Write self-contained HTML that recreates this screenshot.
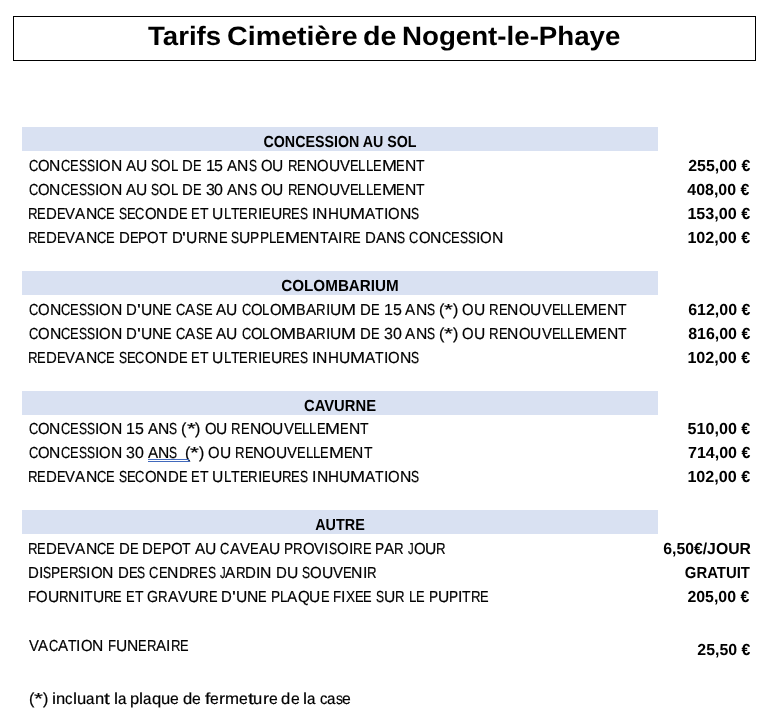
<!DOCTYPE html>
<html><head><meta charset="utf-8"><title>Tarifs Cimetière de Nogent-le-Phaye</title>
<style>
html,body{margin:0;padding:0;background:#fff;}
body{width:775px;height:722px;position:relative;overflow:hidden;font-family:"Liberation Sans", sans-serif;color:#000;text-rendering:geometricPrecision;}
.r{position:absolute;height:17px;filter:grayscale(1);}
.r span{-webkit-text-stroke:0.2px #000;position:absolute;top:0;font-size:16px;line-height:17px;white-space:pre;transform-origin:0 0;}
.p{filter:grayscale(1);position:absolute;font-size:16px;line-height:17px;white-space:pre;font-weight:bold;transform-origin:100% 0;text-align:right;}
.b{position:absolute;left:22px;width:636px;height:24px;background:#D9E1F2;}
.h{filter:grayscale(1);position:absolute;font-size:16px;line-height:17px;white-space:pre;font-weight:bold;transform-origin:50% 0;left:22px;width:636px;text-align:center;}
.box{position:absolute;left:13px;top:16px;width:741px;height:43px;border:1px solid #000;}
.title{filter:grayscale(1);position:absolute;font-size:26.5px;line-height:30px;font-weight:bold;white-space:pre;transform-origin:0 0;}
.sq{position:absolute;height:1px;background:#4169BC;}
</style></head><body>
<div class="box"></div>
<div class="title" id="t0" style="left:148.00px;top:20.70px;transform:scaleX(1.0421)">Tarifs</div>
<div class="title" id="t1" style="left:227.10px;top:20.70px;transform:scaleX(1.0813)">Cimetière</div>
<div class="title" id="t2" style="left:363.36px;top:20.70px;transform:scaleX(1.0808)">de</div>
<div class="title" id="t3" style="left:401.72px;top:20.70px;transform:scaleX(1.0446)">Nogent-le-Phaye</div>
<div class="b" style="top:127px"></div>
<div class="h" id="h0" style="top:134.00px;transform:scaleX(0.8902)">CONCESSION AU SOL</div>
<div class="b" style="top:271px"></div>
<div class="h" id="h1" style="top:278.00px;transform:scaleX(0.9508)">COLOMBARIUM</div>
<div class="b" style="top:391px"></div>
<div class="h" id="h2" style="top:398.00px;transform:scaleX(0.9238)">CAVURNE</div>
<div class="b" style="top:510px"></div>
<div class="h" id="h3" style="top:517.00px;transform:scaleX(0.8984)">AUTRE</div>
<div class="r" id="r0" style="left:28.56px;top:158.00px;width:396.3px"><span style="left:0.00px;transform:scaleX(0.8076)">C</span><span style="left:9.34px;transform:scaleX(0.9311)">O</span><span style="left:20.93px;transform:scaleX(0.9777)">N</span><span style="left:32.24px;transform:scaleX(0.8076)">C</span><span style="left:41.57px;transform:scaleX(0.8012)">E</span><span style="left:50.12px;transform:scaleX(0.7540)">S</span><span style="left:58.17px;transform:scaleX(0.7540)">S</span><span style="left:66.22px;transform:scaleX(0.9908)">I</span><span style="left:70.63px;transform:scaleX(0.9311)">O</span><span style="left:82.22px;transform:scaleX(0.9777)">N</span><span style="left:97.49px;transform:scaleX(0.9495)">A</span><span style="left:107.62px;transform:scaleX(0.9717)">U</span><span style="left:122.82px;transform:scaleX(0.7540)">S</span><span style="left:130.86px;transform:scaleX(0.9311)">O</span><span style="left:142.46px;transform:scaleX(0.8266)">L</span><span style="left:153.78px;transform:scaleX(0.9318)">D</span><span style="left:164.55px;transform:scaleX(0.8012)">E</span><span style="left:177.06px;transform:scaleX(0.9966)">1</span><span style="left:185.94px;transform:scaleX(0.9966)">5</span><span style="left:198.77px;transform:scaleX(0.9495)">A</span><span style="left:208.91px;transform:scaleX(0.9777)">N</span><span style="left:220.21px;transform:scaleX(0.7540)">S</span><span style="left:232.21px;transform:scaleX(0.9311)">O</span><span style="left:243.81px;transform:scaleX(0.9717)">U</span><span style="left:259.00px;transform:scaleX(0.8224)">R</span><span style="left:268.51px;transform:scaleX(0.8012)">E</span><span style="left:277.06px;transform:scaleX(0.9777)">N</span><span style="left:288.37px;transform:scaleX(0.9311)">O</span><span style="left:299.96px;transform:scaleX(0.9717)">U</span><span style="left:311.20px;transform:scaleX(0.9311)">V</span><span style="left:321.13px;transform:scaleX(0.8012)">E</span><span style="left:329.69px;transform:scaleX(0.8266)">L</span><span style="left:337.05px;transform:scaleX(0.8266)">L</span><span style="left:344.41px;transform:scaleX(0.8012)">E</span><span style="left:352.96px;transform:scaleX(1.1234)">M</span><span style="left:367.93px;transform:scaleX(0.8012)">E</span><span style="left:376.48px;transform:scaleX(0.9777)">N</span><span style="left:387.79px;transform:scaleX(0.8725)">T</span></div>
<div class="r" id="r1" style="left:28.56px;top:182.00px;width:396.3px"><span style="left:0.00px;transform:scaleX(0.8076)">C</span><span style="left:9.34px;transform:scaleX(0.9311)">O</span><span style="left:20.93px;transform:scaleX(0.9777)">N</span><span style="left:32.24px;transform:scaleX(0.8076)">C</span><span style="left:41.57px;transform:scaleX(0.8012)">E</span><span style="left:50.12px;transform:scaleX(0.7540)">S</span><span style="left:58.17px;transform:scaleX(0.7540)">S</span><span style="left:66.22px;transform:scaleX(0.9908)">I</span><span style="left:70.63px;transform:scaleX(0.9311)">O</span><span style="left:82.22px;transform:scaleX(0.9777)">N</span><span style="left:97.49px;transform:scaleX(0.9495)">A</span><span style="left:107.62px;transform:scaleX(0.9717)">U</span><span style="left:122.82px;transform:scaleX(0.7540)">S</span><span style="left:130.86px;transform:scaleX(0.9311)">O</span><span style="left:142.46px;transform:scaleX(0.8266)">L</span><span style="left:153.78px;transform:scaleX(0.9318)">D</span><span style="left:164.55px;transform:scaleX(0.8012)">E</span><span style="left:177.06px;transform:scaleX(0.9966)">3</span><span style="left:185.94px;transform:scaleX(0.9966)">0</span><span style="left:198.77px;transform:scaleX(0.9495)">A</span><span style="left:208.91px;transform:scaleX(0.9777)">N</span><span style="left:220.21px;transform:scaleX(0.7540)">S</span><span style="left:232.21px;transform:scaleX(0.9311)">O</span><span style="left:243.81px;transform:scaleX(0.9717)">U</span><span style="left:259.00px;transform:scaleX(0.8224)">R</span><span style="left:268.51px;transform:scaleX(0.8012)">E</span><span style="left:277.06px;transform:scaleX(0.9777)">N</span><span style="left:288.37px;transform:scaleX(0.9311)">O</span><span style="left:299.96px;transform:scaleX(0.9717)">U</span><span style="left:311.20px;transform:scaleX(0.9311)">V</span><span style="left:321.13px;transform:scaleX(0.8012)">E</span><span style="left:329.69px;transform:scaleX(0.8266)">L</span><span style="left:337.05px;transform:scaleX(0.8266)">L</span><span style="left:344.41px;transform:scaleX(0.8012)">E</span><span style="left:352.96px;transform:scaleX(1.1234)">M</span><span style="left:367.93px;transform:scaleX(0.8012)">E</span><span style="left:376.48px;transform:scaleX(0.9777)">N</span><span style="left:387.79px;transform:scaleX(0.8725)">T</span></div>
<div class="r" id="r2" style="left:27.90px;top:206.00px;width:391.4px"><span style="left:0.00px;transform:scaleX(0.8251)">R</span><span style="left:9.54px;transform:scaleX(0.8039)">E</span><span style="left:18.12px;transform:scaleX(0.9349)">D</span><span style="left:28.93px;transform:scaleX(0.8039)">E</span><span style="left:37.51px;transform:scaleX(0.9341)">V</span><span style="left:47.48px;transform:scaleX(0.9526)">A</span><span style="left:57.64px;transform:scaleX(0.9809)">N</span><span style="left:68.99px;transform:scaleX(0.8102)">C</span><span style="left:78.35px;transform:scaleX(0.8039)">E</span><span style="left:90.90px;transform:scaleX(0.7565)">S</span><span style="left:98.98px;transform:scaleX(0.8039)">E</span><span style="left:107.56px;transform:scaleX(0.8102)">C</span><span style="left:116.93px;transform:scaleX(0.9342)">O</span><span style="left:128.56px;transform:scaleX(0.9809)">N</span><span style="left:139.90px;transform:scaleX(0.9349)">D</span><span style="left:150.71px;transform:scaleX(0.8039)">E</span><span style="left:163.26px;transform:scaleX(0.8039)">E</span><span style="left:171.84px;transform:scaleX(0.8753)">T</span><span style="left:184.37px;transform:scaleX(0.9750)">U</span><span style="left:195.65px;transform:scaleX(0.8294)">L</span><span style="left:203.03px;transform:scaleX(0.8753)">T</span><span style="left:211.60px;transform:scaleX(0.8039)">E</span><span style="left:220.18px;transform:scaleX(0.8251)">R</span><span style="left:229.72px;transform:scaleX(0.9941)">I</span><span style="left:234.14px;transform:scaleX(0.8039)">E</span><span style="left:242.72px;transform:scaleX(0.9750)">U</span><span style="left:253.99px;transform:scaleX(0.8251)">R</span><span style="left:263.53px;transform:scaleX(0.8039)">E</span><span style="left:272.11px;transform:scaleX(0.7565)">S</span><span style="left:284.16px;transform:scaleX(0.9941)">I</span><span style="left:288.59px;transform:scaleX(0.9809)">N</span><span style="left:299.93px;transform:scaleX(0.9468)">H</span><span style="left:310.87px;transform:scaleX(0.9750)">U</span><span style="left:322.15px;transform:scaleX(1.1271)">M</span><span style="left:337.17px;transform:scaleX(0.9526)">A</span><span style="left:347.34px;transform:scaleX(0.8753)">T</span><span style="left:355.90px;transform:scaleX(0.9941)">I</span><span style="left:360.32px;transform:scaleX(0.9342)">O</span><span style="left:371.96px;transform:scaleX(0.9809)">N</span><span style="left:383.30px;transform:scaleX(0.7565)">S</span></div>
<div class="r" id="r3" style="left:27.89px;top:230.00px;width:475.5px"><span style="left:0.00px;transform:scaleX(0.8263)">R</span><span style="left:9.55px;transform:scaleX(0.8050)">E</span><span style="left:18.14px;transform:scaleX(0.9362)">D</span><span style="left:28.97px;transform:scaleX(0.8050)">E</span><span style="left:37.56px;transform:scaleX(0.9355)">V</span><span style="left:47.54px;transform:scaleX(0.9540)">A</span><span style="left:57.73px;transform:scaleX(0.9823)">N</span><span style="left:69.08px;transform:scaleX(0.8114)">C</span><span style="left:78.46px;transform:scaleX(0.8050)">E</span><span style="left:91.03px;transform:scaleX(0.9362)">D</span><span style="left:101.86px;transform:scaleX(0.8050)">E</span><span style="left:110.45px;transform:scaleX(0.8517)">P</span><span style="left:119.54px;transform:scaleX(0.9355)">O</span><span style="left:131.19px;transform:scaleX(0.8766)">T</span><span style="left:143.74px;transform:scaleX(0.9362)">D</span><span style="left:154.57px;transform:scaleX(1.2680)">'</span><span style="left:158.45px;transform:scaleX(0.9763)">U</span><span style="left:169.74px;transform:scaleX(0.8263)">R</span><span style="left:179.29px;transform:scaleX(0.9823)">N</span><span style="left:190.65px;transform:scaleX(0.8050)">E</span><span style="left:203.22px;transform:scaleX(0.7575)">S</span><span style="left:211.30px;transform:scaleX(0.9763)">U</span><span style="left:222.59px;transform:scaleX(0.8517)">P</span><span style="left:231.68px;transform:scaleX(0.8517)">P</span><span style="left:240.77px;transform:scaleX(0.8306)">L</span><span style="left:248.17px;transform:scaleX(0.8050)">E</span><span style="left:256.76px;transform:scaleX(1.1287)">M</span><span style="left:271.80px;transform:scaleX(0.8050)">E</span><span style="left:280.40px;transform:scaleX(0.9823)">N</span><span style="left:291.75px;transform:scaleX(0.8766)">T</span><span style="left:300.33px;transform:scaleX(0.9540)">A</span><span style="left:310.51px;transform:scaleX(0.9955)">I</span><span style="left:314.94px;transform:scaleX(0.8263)">R</span><span style="left:324.50px;transform:scaleX(0.8050)">E</span><span style="left:337.06px;transform:scaleX(0.9362)">D</span><span style="left:347.89px;transform:scaleX(0.9540)">A</span><span style="left:358.07px;transform:scaleX(0.9823)">N</span><span style="left:369.43px;transform:scaleX(0.7575)">S</span><span style="left:381.49px;transform:scaleX(0.8114)">C</span><span style="left:390.87px;transform:scaleX(0.9355)">O</span><span style="left:402.52px;transform:scaleX(0.9823)">N</span><span style="left:413.88px;transform:scaleX(0.8114)">C</span><span style="left:423.26px;transform:scaleX(0.8050)">E</span><span style="left:431.85px;transform:scaleX(0.7575)">S</span><span style="left:439.94px;transform:scaleX(0.7575)">S</span><span style="left:448.02px;transform:scaleX(0.9955)">I</span><span style="left:452.45px;transform:scaleX(0.9355)">O</span><span style="left:464.10px;transform:scaleX(0.9823)">N</span></div>
<div class="r" id="r4" style="left:28.57px;top:302.00px;width:598.3px"><span style="left:0.00px;transform:scaleX(0.8091)">C</span><span style="left:9.36px;transform:scaleX(0.9329)">O</span><span style="left:20.97px;transform:scaleX(0.9796)">N</span><span style="left:32.30px;transform:scaleX(0.8091)">C</span><span style="left:41.65px;transform:scaleX(0.8028)">E</span><span style="left:50.22px;transform:scaleX(0.7554)">S</span><span style="left:58.28px;transform:scaleX(0.7554)">S</span><span style="left:66.35px;transform:scaleX(0.9927)">I</span><span style="left:70.77px;transform:scaleX(0.9329)">O</span><span style="left:82.38px;transform:scaleX(0.9796)">N</span><span style="left:97.68px;transform:scaleX(0.9336)">D</span><span style="left:108.47px;transform:scaleX(1.2645)">'</span><span style="left:112.34px;transform:scaleX(0.9736)">U</span><span style="left:123.60px;transform:scaleX(0.9796)">N</span><span style="left:134.93px;transform:scaleX(0.8028)">E</span><span style="left:147.46px;transform:scaleX(0.8091)">C</span><span style="left:156.82px;transform:scaleX(0.9513)">A</span><span style="left:166.97px;transform:scaleX(0.7554)">S</span><span style="left:175.03px;transform:scaleX(0.8028)">E</span><span style="left:187.57px;transform:scaleX(0.9513)">A</span><span style="left:197.72px;transform:scaleX(0.9736)">U</span><span style="left:212.94px;transform:scaleX(0.8091)">C</span><span style="left:222.30px;transform:scaleX(0.9329)">O</span><span style="left:233.92px;transform:scaleX(0.8282)">L</span><span style="left:241.29px;transform:scaleX(0.9329)">O</span><span style="left:252.91px;transform:scaleX(1.1256)">M</span><span style="left:267.91px;transform:scaleX(0.8943)">B</span><span style="left:277.46px;transform:scaleX(0.9513)">A</span><span style="left:287.61px;transform:scaleX(0.8240)">R</span><span style="left:297.13px;transform:scaleX(0.9927)">I</span><span style="left:301.56px;transform:scaleX(0.9736)">U</span><span style="left:312.81px;transform:scaleX(1.1256)">M</span><span style="left:331.78px;transform:scaleX(0.9336)">D</span><span style="left:342.58px;transform:scaleX(0.8028)">E</span><span style="left:355.11px;transform:scaleX(0.9985)">1</span><span style="left:364.00px;transform:scaleX(0.9985)">5</span><span style="left:376.86px;transform:scaleX(0.9513)">A</span><span style="left:387.02px;transform:scaleX(0.9796)">N</span><span style="left:398.34px;transform:scaleX(0.7554)">S</span><span style="left:410.37px;transform:scaleX(0.9985)">(</span><span style="left:415.69px;transform:scaleX(1.4264)">*</span><span style="left:424.58px;transform:scaleX(0.9985)">)</span><span style="left:433.87px;transform:scaleX(0.9329)">O</span><span style="left:445.49px;transform:scaleX(0.9736)">U</span><span style="left:460.71px;transform:scaleX(0.8240)">R</span><span style="left:470.24px;transform:scaleX(0.8028)">E</span><span style="left:478.81px;transform:scaleX(0.9796)">N</span><span style="left:490.13px;transform:scaleX(0.9329)">O</span><span style="left:501.75px;transform:scaleX(0.9736)">U</span><span style="left:513.01px;transform:scaleX(0.9329)">V</span><span style="left:522.96px;transform:scaleX(0.8028)">E</span><span style="left:531.53px;transform:scaleX(0.8282)">L</span><span style="left:538.91px;transform:scaleX(0.8282)">L</span><span style="left:546.28px;transform:scaleX(0.8028)">E</span><span style="left:554.85px;transform:scaleX(1.1256)">M</span><span style="left:569.85px;transform:scaleX(0.8028)">E</span><span style="left:578.42px;transform:scaleX(0.9796)">N</span><span style="left:589.75px;transform:scaleX(0.8741)">T</span></div>
<div class="r" id="r5" style="left:28.57px;top:326.00px;width:598.3px"><span style="left:0.00px;transform:scaleX(0.8091)">C</span><span style="left:9.36px;transform:scaleX(0.9329)">O</span><span style="left:20.97px;transform:scaleX(0.9796)">N</span><span style="left:32.30px;transform:scaleX(0.8091)">C</span><span style="left:41.65px;transform:scaleX(0.8028)">E</span><span style="left:50.22px;transform:scaleX(0.7554)">S</span><span style="left:58.28px;transform:scaleX(0.7554)">S</span><span style="left:66.35px;transform:scaleX(0.9927)">I</span><span style="left:70.77px;transform:scaleX(0.9329)">O</span><span style="left:82.38px;transform:scaleX(0.9796)">N</span><span style="left:97.68px;transform:scaleX(0.9336)">D</span><span style="left:108.47px;transform:scaleX(1.2645)">'</span><span style="left:112.34px;transform:scaleX(0.9736)">U</span><span style="left:123.60px;transform:scaleX(0.9796)">N</span><span style="left:134.93px;transform:scaleX(0.8028)">E</span><span style="left:147.46px;transform:scaleX(0.8091)">C</span><span style="left:156.82px;transform:scaleX(0.9513)">A</span><span style="left:166.97px;transform:scaleX(0.7554)">S</span><span style="left:175.03px;transform:scaleX(0.8028)">E</span><span style="left:187.57px;transform:scaleX(0.9513)">A</span><span style="left:197.72px;transform:scaleX(0.9736)">U</span><span style="left:212.94px;transform:scaleX(0.8091)">C</span><span style="left:222.30px;transform:scaleX(0.9329)">O</span><span style="left:233.92px;transform:scaleX(0.8282)">L</span><span style="left:241.29px;transform:scaleX(0.9329)">O</span><span style="left:252.91px;transform:scaleX(1.1256)">M</span><span style="left:267.91px;transform:scaleX(0.8943)">B</span><span style="left:277.46px;transform:scaleX(0.9513)">A</span><span style="left:287.61px;transform:scaleX(0.8240)">R</span><span style="left:297.13px;transform:scaleX(0.9927)">I</span><span style="left:301.56px;transform:scaleX(0.9736)">U</span><span style="left:312.81px;transform:scaleX(1.1256)">M</span><span style="left:331.78px;transform:scaleX(0.9336)">D</span><span style="left:342.58px;transform:scaleX(0.8028)">E</span><span style="left:355.11px;transform:scaleX(0.9985)">3</span><span style="left:364.00px;transform:scaleX(0.9985)">0</span><span style="left:376.86px;transform:scaleX(0.9513)">A</span><span style="left:387.02px;transform:scaleX(0.9796)">N</span><span style="left:398.34px;transform:scaleX(0.7554)">S</span><span style="left:410.37px;transform:scaleX(0.9985)">(</span><span style="left:415.69px;transform:scaleX(1.4264)">*</span><span style="left:424.58px;transform:scaleX(0.9985)">)</span><span style="left:433.87px;transform:scaleX(0.9329)">O</span><span style="left:445.49px;transform:scaleX(0.9736)">U</span><span style="left:460.71px;transform:scaleX(0.8240)">R</span><span style="left:470.24px;transform:scaleX(0.8028)">E</span><span style="left:478.81px;transform:scaleX(0.9796)">N</span><span style="left:490.13px;transform:scaleX(0.9329)">O</span><span style="left:501.75px;transform:scaleX(0.9736)">U</span><span style="left:513.01px;transform:scaleX(0.9329)">V</span><span style="left:522.96px;transform:scaleX(0.8028)">E</span><span style="left:531.53px;transform:scaleX(0.8282)">L</span><span style="left:538.91px;transform:scaleX(0.8282)">L</span><span style="left:546.28px;transform:scaleX(0.8028)">E</span><span style="left:554.85px;transform:scaleX(1.1256)">M</span><span style="left:569.85px;transform:scaleX(0.8028)">E</span><span style="left:578.42px;transform:scaleX(0.9796)">N</span><span style="left:589.75px;transform:scaleX(0.8741)">T</span></div>
<div class="r" id="r6" style="left:27.90px;top:350.00px;width:391.4px"><span style="left:0.00px;transform:scaleX(0.8251)">R</span><span style="left:9.54px;transform:scaleX(0.8039)">E</span><span style="left:18.12px;transform:scaleX(0.9349)">D</span><span style="left:28.93px;transform:scaleX(0.8039)">E</span><span style="left:37.51px;transform:scaleX(0.9341)">V</span><span style="left:47.48px;transform:scaleX(0.9526)">A</span><span style="left:57.64px;transform:scaleX(0.9809)">N</span><span style="left:68.99px;transform:scaleX(0.8102)">C</span><span style="left:78.35px;transform:scaleX(0.8039)">E</span><span style="left:90.90px;transform:scaleX(0.7565)">S</span><span style="left:98.98px;transform:scaleX(0.8039)">E</span><span style="left:107.56px;transform:scaleX(0.8102)">C</span><span style="left:116.93px;transform:scaleX(0.9342)">O</span><span style="left:128.56px;transform:scaleX(0.9809)">N</span><span style="left:139.90px;transform:scaleX(0.9349)">D</span><span style="left:150.71px;transform:scaleX(0.8039)">E</span><span style="left:163.26px;transform:scaleX(0.8039)">E</span><span style="left:171.84px;transform:scaleX(0.8753)">T</span><span style="left:184.37px;transform:scaleX(0.9750)">U</span><span style="left:195.65px;transform:scaleX(0.8294)">L</span><span style="left:203.03px;transform:scaleX(0.8753)">T</span><span style="left:211.60px;transform:scaleX(0.8039)">E</span><span style="left:220.18px;transform:scaleX(0.8251)">R</span><span style="left:229.72px;transform:scaleX(0.9941)">I</span><span style="left:234.14px;transform:scaleX(0.8039)">E</span><span style="left:242.72px;transform:scaleX(0.9750)">U</span><span style="left:253.99px;transform:scaleX(0.8251)">R</span><span style="left:263.53px;transform:scaleX(0.8039)">E</span><span style="left:272.11px;transform:scaleX(0.7565)">S</span><span style="left:284.16px;transform:scaleX(0.9941)">I</span><span style="left:288.59px;transform:scaleX(0.9809)">N</span><span style="left:299.93px;transform:scaleX(0.9468)">H</span><span style="left:310.87px;transform:scaleX(0.9750)">U</span><span style="left:322.15px;transform:scaleX(1.1271)">M</span><span style="left:337.17px;transform:scaleX(0.9526)">A</span><span style="left:347.34px;transform:scaleX(0.8753)">T</span><span style="left:355.90px;transform:scaleX(0.9941)">I</span><span style="left:360.32px;transform:scaleX(0.9342)">O</span><span style="left:371.96px;transform:scaleX(0.9809)">N</span><span style="left:383.30px;transform:scaleX(0.7565)">S</span></div>
<div class="r" id="r7" style="left:28.57px;top:421.00px;width:340.2px"><span style="left:0.00px;transform:scaleX(0.8076)">C</span><span style="left:9.34px;transform:scaleX(0.9311)">O</span><span style="left:20.93px;transform:scaleX(0.9777)">N</span><span style="left:32.24px;transform:scaleX(0.8076)">C</span><span style="left:41.57px;transform:scaleX(0.8012)">E</span><span style="left:50.12px;transform:scaleX(0.7540)">S</span><span style="left:58.17px;transform:scaleX(0.7540)">S</span><span style="left:66.22px;transform:scaleX(0.9908)">I</span><span style="left:70.63px;transform:scaleX(0.9311)">O</span><span style="left:82.22px;transform:scaleX(0.9777)">N</span><span style="left:97.49px;transform:scaleX(0.9966)">1</span><span style="left:106.36px;transform:scaleX(0.9966)">5</span><span style="left:119.20px;transform:scaleX(0.9495)">A</span><span style="left:129.33px;transform:scaleX(0.9777)">N</span><span style="left:140.63px;transform:scaleX(0.7540)">S</span><span style="left:152.64px;transform:scaleX(0.9966)">(</span><span style="left:157.95px;transform:scaleX(1.4237)">*</span><span style="left:166.83px;transform:scaleX(0.9966)">)</span><span style="left:176.09px;transform:scaleX(0.9311)">O</span><span style="left:187.69px;transform:scaleX(0.9717)">U</span><span style="left:202.88px;transform:scaleX(0.8224)">R</span><span style="left:212.39px;transform:scaleX(0.8012)">E</span><span style="left:220.94px;transform:scaleX(0.9777)">N</span><span style="left:232.25px;transform:scaleX(0.9311)">O</span><span style="left:243.84px;transform:scaleX(0.9717)">U</span><span style="left:255.08px;transform:scaleX(0.9310)">V</span><span style="left:265.01px;transform:scaleX(0.8012)">E</span><span style="left:273.56px;transform:scaleX(0.8266)">L</span><span style="left:280.93px;transform:scaleX(0.8266)">L</span><span style="left:288.29px;transform:scaleX(0.8012)">E</span><span style="left:296.84px;transform:scaleX(1.1234)">M</span><span style="left:311.81px;transform:scaleX(0.8012)">E</span><span style="left:320.36px;transform:scaleX(0.9777)">N</span><span style="left:331.67px;transform:scaleX(0.8725)">T</span></div>
<div class="r" id="r8" style="left:28.56px;top:445.00px;width:343.6px"><span style="left:0.00px;transform:scaleX(0.8062)">C</span><span style="left:9.32px;transform:scaleX(0.9295)">O</span><span style="left:20.90px;transform:scaleX(0.9760)">N</span><span style="left:32.18px;transform:scaleX(0.8062)">C</span><span style="left:41.50px;transform:scaleX(0.7999)">E</span><span style="left:50.04px;transform:scaleX(0.7527)">S</span><span style="left:58.07px;transform:scaleX(0.7527)">S</span><span style="left:66.11px;transform:scaleX(0.9891)">I</span><span style="left:70.51px;transform:scaleX(0.9295)">O</span><span style="left:82.08px;transform:scaleX(0.9760)">N</span><span style="left:97.32px;transform:scaleX(0.9949)">3</span><span style="left:106.18px;transform:scaleX(0.9949)">0</span><span style="left:119.00px;transform:scaleX(0.9479)">A</span><span style="left:129.11px;transform:scaleX(0.9760)">N</span><span style="left:140.40px;transform:scaleX(0.7527)">S</span><span style="left:156.33px;transform:scaleX(0.9949)">(</span><span style="left:161.63px;transform:scaleX(1.4213)">*</span><span style="left:170.50px;transform:scaleX(0.9949)">)</span><span style="left:179.75px;transform:scaleX(0.9295)">O</span><span style="left:191.32px;transform:scaleX(0.9701)">U</span><span style="left:206.49px;transform:scaleX(0.8210)">R</span><span style="left:215.99px;transform:scaleX(0.7999)">E</span><span style="left:224.52px;transform:scaleX(0.9760)">N</span><span style="left:235.81px;transform:scaleX(0.9295)">O</span><span style="left:247.38px;transform:scaleX(0.9701)">U</span><span style="left:258.60px;transform:scaleX(0.9295)">V</span><span style="left:268.52px;transform:scaleX(0.7999)">E</span><span style="left:277.05px;transform:scaleX(0.8252)">L</span><span style="left:284.40px;transform:scaleX(0.8252)">L</span><span style="left:291.75px;transform:scaleX(0.7999)">E</span><span style="left:300.29px;transform:scaleX(1.1215)">M</span><span style="left:315.24px;transform:scaleX(0.7999)">E</span><span style="left:323.77px;transform:scaleX(0.9760)">N</span><span style="left:335.06px;transform:scaleX(0.8710)">T</span></div>
<div class="r" id="r9" style="left:27.89px;top:469.00px;width:391.4px"><span style="left:0.00px;transform:scaleX(0.8252)">R</span><span style="left:9.54px;transform:scaleX(0.8040)">E</span><span style="left:18.12px;transform:scaleX(0.9350)">D</span><span style="left:28.93px;transform:scaleX(0.8040)">E</span><span style="left:37.51px;transform:scaleX(0.9343)">V</span><span style="left:47.48px;transform:scaleX(0.9528)">A</span><span style="left:57.65px;transform:scaleX(0.9810)">N</span><span style="left:69.00px;transform:scaleX(0.8104)">C</span><span style="left:78.37px;transform:scaleX(0.8040)">E</span><span style="left:90.92px;transform:scaleX(0.7566)">S</span><span style="left:98.99px;transform:scaleX(0.8040)">E</span><span style="left:107.57px;transform:scaleX(0.8104)">C</span><span style="left:116.94px;transform:scaleX(0.9343)">O</span><span style="left:128.58px;transform:scaleX(0.9810)">N</span><span style="left:139.92px;transform:scaleX(0.9350)">D</span><span style="left:150.73px;transform:scaleX(0.8040)">E</span><span style="left:163.29px;transform:scaleX(0.8040)">E</span><span style="left:171.87px;transform:scaleX(0.8755)">T</span><span style="left:184.40px;transform:scaleX(0.9751)">U</span><span style="left:195.68px;transform:scaleX(0.8295)">L</span><span style="left:203.07px;transform:scaleX(0.8755)">T</span><span style="left:211.63px;transform:scaleX(0.8040)">E</span><span style="left:220.21px;transform:scaleX(0.8252)">R</span><span style="left:229.75px;transform:scaleX(0.9943)">I</span><span style="left:234.18px;transform:scaleX(0.8040)">E</span><span style="left:242.76px;transform:scaleX(0.9751)">U</span><span style="left:254.03px;transform:scaleX(0.8252)">R</span><span style="left:263.57px;transform:scaleX(0.8040)">E</span><span style="left:272.16px;transform:scaleX(0.7566)">S</span><span style="left:284.20px;transform:scaleX(0.9943)">I</span><span style="left:288.63px;transform:scaleX(0.9810)">N</span><span style="left:299.97px;transform:scaleX(0.9469)">H</span><span style="left:310.92px;transform:scaleX(0.9751)">U</span><span style="left:322.20px;transform:scaleX(1.1273)">M</span><span style="left:337.22px;transform:scaleX(0.9528)">A</span><span style="left:347.39px;transform:scaleX(0.8755)">T</span><span style="left:355.95px;transform:scaleX(0.9943)">I</span><span style="left:360.38px;transform:scaleX(0.9343)">O</span><span style="left:372.01px;transform:scaleX(0.9810)">N</span><span style="left:383.36px;transform:scaleX(0.7566)">S</span></div>
<div class="r" id="r10" style="left:27.89px;top:541.00px;width:418.1px"><span style="left:0.00px;transform:scaleX(0.8264)">R</span><span style="left:9.55px;transform:scaleX(0.8051)">E</span><span style="left:18.15px;transform:scaleX(0.9363)">D</span><span style="left:28.97px;transform:scaleX(0.8051)">E</span><span style="left:37.57px;transform:scaleX(0.9356)">V</span><span style="left:47.55px;transform:scaleX(0.9541)">A</span><span style="left:57.73px;transform:scaleX(0.9824)">N</span><span style="left:69.09px;transform:scaleX(0.8115)">C</span><span style="left:78.47px;transform:scaleX(0.8051)">E</span><span style="left:91.05px;transform:scaleX(0.9363)">D</span><span style="left:101.87px;transform:scaleX(0.8051)">E</span><span style="left:114.44px;transform:scaleX(0.9363)">D</span><span style="left:125.27px;transform:scaleX(0.8051)">E</span><span style="left:133.86px;transform:scaleX(0.8518)">P</span><span style="left:142.95px;transform:scaleX(0.9356)">O</span><span style="left:154.60px;transform:scaleX(0.8767)">T</span><span style="left:167.16px;transform:scaleX(0.9541)">A</span><span style="left:177.34px;transform:scaleX(0.9765)">U</span><span style="left:192.61px;transform:scaleX(0.8115)">C</span><span style="left:201.99px;transform:scaleX(0.9541)">A</span><span style="left:212.17px;transform:scaleX(0.9356)">V</span><span style="left:222.16px;transform:scaleX(0.8051)">E</span><span style="left:230.75px;transform:scaleX(0.9541)">A</span><span style="left:240.93px;transform:scaleX(0.9765)">U</span><span style="left:256.20px;transform:scaleX(0.8518)">P</span><span style="left:265.29px;transform:scaleX(0.8264)">R</span><span style="left:274.85px;transform:scaleX(0.9356)">O</span><span style="left:286.50px;transform:scaleX(0.9356)">V</span><span style="left:296.48px;transform:scaleX(0.9956)">I</span><span style="left:300.91px;transform:scaleX(0.7576)">S</span><span style="left:309.00px;transform:scaleX(0.9356)">O</span><span style="left:320.65px;transform:scaleX(0.9956)">I</span><span style="left:325.08px;transform:scaleX(0.8264)">R</span><span style="left:334.64px;transform:scaleX(0.8051)">E</span><span style="left:347.21px;transform:scaleX(0.8518)">P</span><span style="left:356.30px;transform:scaleX(0.9541)">A</span><span style="left:366.48px;transform:scaleX(0.8264)">R</span><span style="left:380.02px;transform:scaleX(0.7014)">J</span><span style="left:385.63px;transform:scaleX(0.9356)">O</span><span style="left:397.28px;transform:scaleX(0.9765)">U</span><span style="left:408.57px;transform:scaleX(0.8264)">R</span></div>
<div class="r" id="r11" style="left:27.68px;top:565.00px;width:349.1px"><span style="left:0.00px;transform:scaleX(0.9368)">D</span><span style="left:10.83px;transform:scaleX(0.9962)">I</span><span style="left:15.27px;transform:scaleX(0.7581)">S</span><span style="left:23.36px;transform:scaleX(0.8523)">P</span><span style="left:32.45px;transform:scaleX(0.8056)">E</span><span style="left:41.05px;transform:scaleX(0.8268)">R</span><span style="left:50.61px;transform:scaleX(0.7581)">S</span><span style="left:58.70px;transform:scaleX(0.9962)">I</span><span style="left:63.14px;transform:scaleX(0.9361)">O</span><span style="left:74.79px;transform:scaleX(0.9829)">N</span><span style="left:90.14px;transform:scaleX(0.9368)">D</span><span style="left:100.97px;transform:scaleX(0.8056)">E</span><span style="left:109.57px;transform:scaleX(0.7581)">S</span><span style="left:121.64px;transform:scaleX(0.8119)">C</span><span style="left:131.03px;transform:scaleX(0.8056)">E</span><span style="left:139.62px;transform:scaleX(0.9829)">N</span><span style="left:150.99px;transform:scaleX(0.9368)">D</span><span style="left:161.82px;transform:scaleX(0.8268)">R</span><span style="left:171.38px;transform:scaleX(0.8056)">E</span><span style="left:179.98px;transform:scaleX(0.7581)">S</span><span style="left:192.05px;transform:scaleX(0.7017)">J</span><span style="left:197.66px;transform:scaleX(0.9546)">A</span><span style="left:207.85px;transform:scaleX(0.8268)">R</span><span style="left:217.41px;transform:scaleX(0.9368)">D</span><span style="left:228.24px;transform:scaleX(0.9962)">I</span><span style="left:232.68px;transform:scaleX(0.9829)">N</span><span style="left:248.03px;transform:scaleX(0.9368)">D</span><span style="left:258.86px;transform:scaleX(0.9770)">U</span><span style="left:274.13px;transform:scaleX(0.7581)">S</span><span style="left:282.22px;transform:scaleX(0.9361)">O</span><span style="left:293.88px;transform:scaleX(0.9770)">U</span><span style="left:305.18px;transform:scaleX(0.9361)">V</span><span style="left:315.17px;transform:scaleX(0.8056)">E</span><span style="left:323.77px;transform:scaleX(0.9829)">N</span><span style="left:335.13px;transform:scaleX(0.9962)">I</span><span style="left:339.57px;transform:scaleX(0.8268)">R</span></div>
<div class="r" id="r12" style="left:27.90px;top:589.00px;width:461.2px"><span style="left:0.00px;transform:scaleX(0.8245)">F</span><span style="left:8.06px;transform:scaleX(0.9332)">O</span><span style="left:19.69px;transform:scaleX(0.9739)">U</span><span style="left:30.95px;transform:scaleX(0.8242)">R</span><span style="left:40.48px;transform:scaleX(0.9799)">N</span><span style="left:51.81px;transform:scaleX(0.9930)">I</span><span style="left:56.23px;transform:scaleX(0.8744)">T</span><span style="left:64.78px;transform:scaleX(0.9739)">U</span><span style="left:76.04px;transform:scaleX(0.8242)">R</span><span style="left:85.57px;transform:scaleX(0.8031)">E</span><span style="left:98.11px;transform:scaleX(0.8031)">E</span><span style="left:106.68px;transform:scaleX(0.8744)">T</span><span style="left:119.20px;transform:scaleX(0.8891)">G</span><span style="left:130.27px;transform:scaleX(0.8242)">R</span><span style="left:139.80px;transform:scaleX(0.9516)">A</span><span style="left:149.96px;transform:scaleX(0.9331)">V</span><span style="left:159.92px;transform:scaleX(0.9739)">U</span><span style="left:171.18px;transform:scaleX(0.8242)">R</span><span style="left:180.71px;transform:scaleX(0.8031)">E</span><span style="left:193.25px;transform:scaleX(0.9339)">D</span><span style="left:204.04px;transform:scaleX(1.2649)">'</span><span style="left:207.92px;transform:scaleX(0.9739)">U</span><span style="left:219.18px;transform:scaleX(0.9799)">N</span><span style="left:230.51px;transform:scaleX(0.8031)">E</span><span style="left:243.05px;transform:scaleX(0.8496)">P</span><span style="left:252.11px;transform:scaleX(0.8285)">L</span><span style="left:259.49px;transform:scaleX(0.9516)">A</span><span style="left:269.65px;transform:scaleX(0.9483)">Q</span><span style="left:281.46px;transform:scaleX(0.9739)">U</span><span style="left:292.72px;transform:scaleX(0.8031)">E</span><span style="left:305.26px;transform:scaleX(0.8245)">F</span><span style="left:313.32px;transform:scaleX(0.9930)">I</span><span style="left:317.74px;transform:scaleX(0.8536)">X</span><span style="left:326.85px;transform:scaleX(0.8031)">E</span><span style="left:335.42px;transform:scaleX(0.8031)">E</span><span style="left:347.96px;transform:scaleX(0.7557)">S</span><span style="left:356.03px;transform:scaleX(0.9739)">U</span><span style="left:367.29px;transform:scaleX(0.8242)">R</span><span style="left:380.78px;transform:scaleX(0.8285)">L</span><span style="left:388.16px;transform:scaleX(0.8031)">E</span><span style="left:400.70px;transform:scaleX(0.8496)">P</span><span style="left:409.77px;transform:scaleX(0.9739)">U</span><span style="left:421.03px;transform:scaleX(0.8496)">P</span><span style="left:430.10px;transform:scaleX(0.9930)">I</span><span style="left:434.52px;transform:scaleX(0.8744)">T</span><span style="left:443.07px;transform:scaleX(0.8242)">R</span><span style="left:452.60px;transform:scaleX(0.8031)">E</span></div>
<div class="r" id="r13" style="left:28.54px;top:638.00px;width:160.0px"><span style="left:0.00px;transform:scaleX(0.9278)">V</span><span style="left:9.90px;transform:scaleX(0.9462)">A</span><span style="left:20.00px;transform:scaleX(0.8048)">C</span><span style="left:29.30px;transform:scaleX(0.9462)">A</span><span style="left:39.40px;transform:scaleX(0.8694)">T</span><span style="left:47.91px;transform:scaleX(0.9874)">I</span><span style="left:52.30px;transform:scaleX(0.9279)">O</span><span style="left:63.86px;transform:scaleX(0.9743)">N</span><span style="left:79.07px;transform:scaleX(0.8198)">F</span><span style="left:87.09px;transform:scaleX(0.9684)">U</span><span style="left:98.29px;transform:scaleX(0.9743)">N</span><span style="left:109.55px;transform:scaleX(0.7985)">E</span><span style="left:118.07px;transform:scaleX(0.8195)">R</span><span style="left:127.55px;transform:scaleX(0.9462)">A</span><span style="left:137.65px;transform:scaleX(0.9874)">I</span><span style="left:142.04px;transform:scaleX(0.8195)">R</span><span style="left:151.52px;transform:scaleX(0.7985)">E</span></div>
<div class="r" id="r14" style="left:28.77px;top:691.00px;width:322.4px"><span style="left:0.00px;transform:scaleX(0.9980)">(</span><span style="left:5.32px;transform:scaleX(1.4256)">*</span><span style="left:14.21px;transform:scaleX(0.9980)">)</span><span style="left:23.49px;transform:scaleX(1.1297)">i</span><span style="left:27.51px;transform:scaleX(1.0345)">n</span><span style="left:36.73px;transform:scaleX(0.9269)">c</span><span style="left:44.14px;transform:scaleX(1.1297)">l</span><span style="left:48.16px;transform:scaleX(1.0345)">u</span><span style="left:57.38px;transform:scaleX(0.9432)">a</span><span style="left:65.78px;transform:scaleX(1.0345)">n</span><span style="left:74.99px;transform:scaleX(1.3191)">t</span><span style="left:84.83px;transform:scaleX(1.1297)">l</span><span style="left:88.85px;transform:scaleX(0.9432)">a</span><span style="left:101.22px;transform:scaleX(1.0345)">p</span><span style="left:110.43px;transform:scaleX(1.1297)">l</span><span style="left:114.46px;transform:scaleX(0.9432)">a</span><span style="left:122.86px;transform:scaleX(1.0345)">q</span><span style="left:132.07px;transform:scaleX(1.0345)">u</span><span style="left:141.28px;transform:scaleX(0.9797)">e</span><span style="left:153.97px;transform:scaleX(1.0345)">d</span><span style="left:163.19px;transform:scaleX(0.9797)">e</span><span style="left:175.88px;transform:scaleX(1.2018)">f</span><span style="left:181.23px;transform:scaleX(0.9797)">e</span><span style="left:189.95px;transform:scaleX(1.1474)">r</span><span style="left:196.07px;transform:scaleX(1.0510)">m</span><span style="left:210.08px;transform:scaleX(0.9797)">e</span><span style="left:218.80px;transform:scaleX(1.3191)">t</span><span style="left:224.68px;transform:scaleX(1.0345)">u</span><span style="left:233.89px;transform:scaleX(1.1474)">r</span><span style="left:240.00px;transform:scaleX(0.9797)">e</span><span style="left:252.69px;transform:scaleX(1.0345)">d</span><span style="left:261.91px;transform:scaleX(0.9797)">e</span><span style="left:274.60px;transform:scaleX(1.1297)">l</span><span style="left:278.62px;transform:scaleX(0.9432)">a</span><span style="left:290.98px;transform:scaleX(0.9269)">c</span><span style="left:298.40px;transform:scaleX(0.9432)">a</span><span style="left:306.80px;transform:scaleX(0.8573)">s</span><span style="left:313.66px;transform:scaleX(0.9797)">e</span></div>
<div class="p" id="p0" style="right:24.51px;top:158.00px;transform:scaleX(0.9965)">255,00 €</div>
<div class="p" id="p1" style="right:25.31px;top:182.00px;transform:scaleX(0.9943)">408,00 €</div>
<div class="p" id="p2" style="right:24.80px;top:206.00px;transform:scaleX(1.0099)">153,00 €</div>
<div class="p" id="p3" style="right:24.80px;top:230.00px;transform:scaleX(1.0099)">102,00 €</div>
<div class="p" id="p4" style="right:24.54px;top:302.00px;transform:scaleX(0.9960)">612,00 €</div>
<div class="p" id="p5" style="right:24.51px;top:326.00px;transform:scaleX(0.9966)">816,00 €</div>
<div class="p" id="p6" style="right:24.80px;top:350.00px;transform:scaleX(1.0099)">102,00 €</div>
<div class="p" id="p7" style="right:24.38px;top:421.00px;transform:scaleX(1.0069)">510,00 €</div>
<div class="p" id="p8" style="right:24.56px;top:445.00px;transform:scaleX(0.9999)">714,00 €</div>
<div class="p" id="p9" style="right:24.80px;top:469.00px;transform:scaleX(1.0099)">102,00 €</div>
<div class="p" id="p10" style="right:24.15px;top:541.00px;transform:scaleX(0.9860)">6,50€/JOUR</div>
<div class="p" id="p11" style="right:25.15px;top:565.00px;transform:scaleX(0.9306)">GRATUIT</div>
<div class="p" id="p12" style="right:25.41px;top:589.00px;transform:scaleX(0.9933)">205,00 €</div>
<div class="p" id="p13" style="right:24.45px;top:642.00px;transform:scaleX(0.9943)">25,50 €</div>
<div class="sq" style="left:148px;top:459px;width:41px"></div>
<div class="sq" style="left:188px;top:460px;width:1px;opacity:.6"></div>
<div class="sq" style="left:148px;top:461px;width:42px"></div>
</body></html>
